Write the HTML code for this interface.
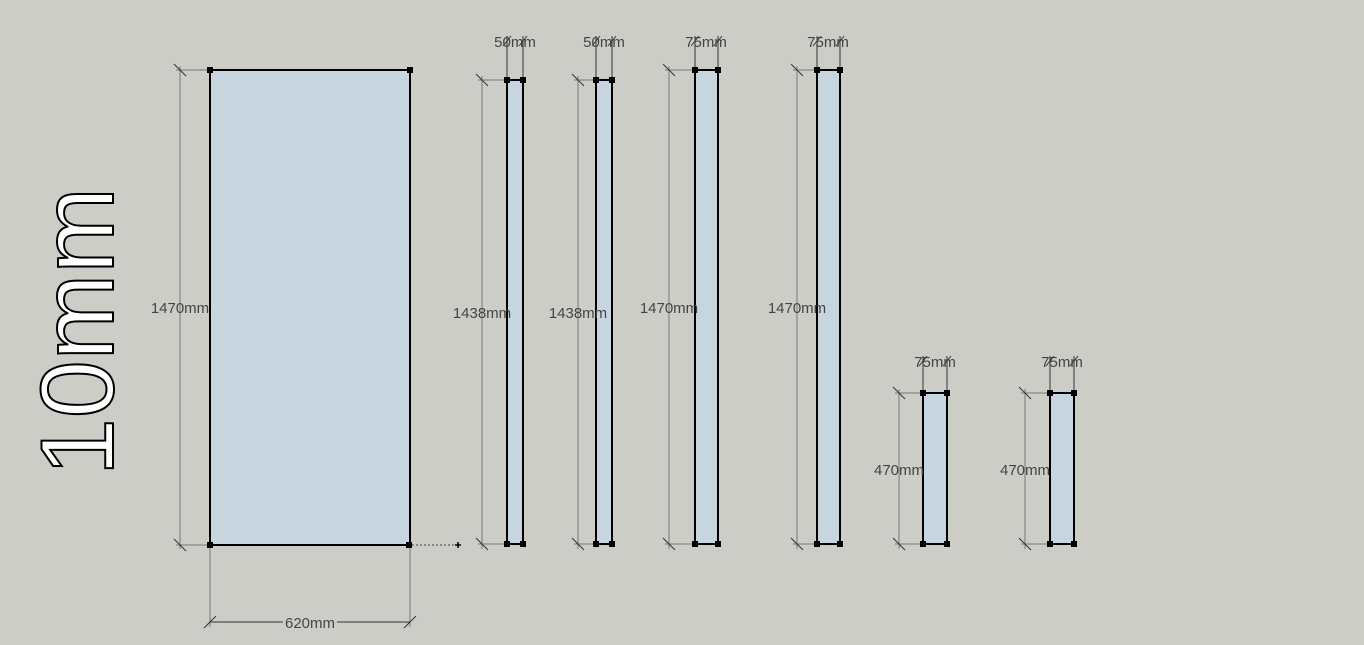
<!DOCTYPE html>
<html><head><meta charset="utf-8"><style>
html,body{margin:0;padding:0;background:#cdcdc8;}
svg{display:block}
text{font-family:"Liberation Sans",sans-serif;font-size:15px;fill:#444;}
</style></head><body>
<svg width="1364" height="645" viewBox="0 0 1364 645" xmlns="http://www.w3.org/2000/svg">
<rect width="1364" height="645" fill="#cdcdc8"/>
<text x="0" y="0" transform="translate(113,476) rotate(-90)" style="font-size:104px;fill:#fff;stroke:#000;stroke-width:2px">10mm</text>

<g stroke="#777" stroke-width="1" fill="none">
<line x1="180" y1="66" x2="180" y2="549"/>
<line x1="176" y1="70" x2="210" y2="70"/><line x1="176" y1="545" x2="210" y2="545"/>
<line x1="210" y1="545" x2="210" y2="627"/><line x1="410" y1="545" x2="410" y2="627"/>
<line x1="482" y1="76" x2="482" y2="549"/><line x1="478" y1="80" x2="507" y2="80"/><line x1="478" y1="544" x2="507" y2="544"/>
<line x1="578" y1="76" x2="578" y2="549"/><line x1="574" y1="80" x2="596" y2="80"/><line x1="574" y1="544" x2="596" y2="544"/>
<line x1="669" y1="66" x2="669" y2="549"/><line x1="665" y1="70" x2="695" y2="70"/><line x1="665" y1="544" x2="695" y2="544"/>
<line x1="797" y1="66" x2="797" y2="549"/><line x1="793" y1="70" x2="817" y2="70"/><line x1="793" y1="544" x2="817" y2="544"/>
<line x1="899" y1="389" x2="899" y2="549"/><line x1="895" y1="393" x2="923" y2="393"/><line x1="895" y1="544" x2="923" y2="544"/>
<line x1="1025" y1="389" x2="1025" y2="549"/><line x1="1021" y1="393" x2="1050" y2="393"/><line x1="1021" y1="544" x2="1050" y2="544"/>
</g>
<g stroke="#333" stroke-width="1" fill="none">
<line x1="210" y1="622" x2="410" y2="622"/>
<line x1="507" y1="80" x2="507" y2="36"/><line x1="523" y1="80" x2="523" y2="36"/>
<line x1="596" y1="80" x2="596" y2="36"/><line x1="612" y1="80" x2="612" y2="36"/>
<line x1="695" y1="70" x2="695" y2="36"/><line x1="718" y1="70" x2="718" y2="36"/>
<line x1="817" y1="70" x2="817" y2="36"/><line x1="840" y1="70" x2="840" y2="36"/>
<line x1="923" y1="393" x2="923" y2="356"/><line x1="947" y1="393" x2="947" y2="356"/>
<line x1="1050" y1="393" x2="1050" y2="356"/><line x1="1074" y1="393" x2="1074" y2="356"/>
<path d="M174 64L186 76M174 539L186 551M204 628L216 616M404 628L416 616
M476 74L488 86M476 538L488 550M572 74L584 86M572 538L584 550
M663 64L675 76M663 538L675 550M791 64L803 76M791 538L803 550
M893 387L905 399M893 538L905 550M1019 387L1031 399M1019 538L1031 550
M503 46L511 36M519 46L527 36M592 46L600 36M608 46L616 36
M691 46L699 36M714 46L722 36M813 46L821 36M836 46L844 36
M919 366L927 356M943 366L951 356M1046 366L1054 356M1070 366L1078 356"/>
</g>
<line x1="412" y1="545" x2="458" y2="545" stroke="#444" stroke-dasharray="2,2"/>
<path d="M455 545h6M458 542v6" stroke="#000" stroke-width="1.5"/>

<g fill="#c6d5de" stroke="#000" stroke-width="2">
<rect x="210" y="70" width="200" height="475"/>
<rect x="507" y="80" width="16" height="464"/>
<rect x="596" y="80" width="16" height="464"/>
<rect x="695" y="70" width="23" height="474"/>
<rect x="817" y="70" width="23" height="474"/>
<rect x="923" y="393" width="24" height="151"/>
<rect x="1050" y="393" width="24" height="151"/>
</g>
<g fill="#000">
<rect x="207" y="67" width="6" height="6"/><rect x="407" y="67" width="6" height="6"/><rect x="207" y="542" width="6" height="6"/><rect x="406" y="542" width="6" height="6"/>
<rect x="504" y="77" width="6" height="6"/><rect x="520" y="77" width="6" height="6"/><rect x="504" y="541" width="6" height="6"/><rect x="520" y="541" width="6" height="6"/>
<rect x="593" y="77" width="6" height="6"/><rect x="609" y="77" width="6" height="6"/><rect x="593" y="541" width="6" height="6"/><rect x="609" y="541" width="6" height="6"/>
<rect x="692" y="67" width="6" height="6"/><rect x="715" y="67" width="6" height="6"/><rect x="692" y="541" width="6" height="6"/><rect x="715" y="541" width="6" height="6"/>
<rect x="814" y="67" width="6" height="6"/><rect x="837" y="67" width="6" height="6"/><rect x="814" y="541" width="6" height="6"/><rect x="837" y="541" width="6" height="6"/>
<rect x="920" y="390" width="6" height="6"/><rect x="944" y="390" width="6" height="6"/><rect x="920" y="541" width="6" height="6"/><rect x="944" y="541" width="6" height="6"/>
<rect x="1047" y="390" width="6" height="6"/><rect x="1071" y="390" width="6" height="6"/><rect x="1047" y="541" width="6" height="6"/><rect x="1071" y="541" width="6" height="6"/>
</g>

<rect x="283" y="615" width="54" height="15" fill="#cdcdc8"/>
<g text-anchor="middle">
<text x="180" y="313">1470mm</text>
<text x="310" y="628">620mm</text>
<text x="482" y="318">1438mm</text>
<text x="578" y="318">1438mm</text>
<text x="669" y="313">1470mm</text>
<text x="797" y="313">1470mm</text>
<text x="899" y="475">470mm</text>
<text x="1025" y="475">470mm</text>
<text x="515" y="47">50mm</text>
<text x="604" y="47">50mm</text>
<text x="706" y="47">75mm</text>
<text x="828" y="47">75mm</text>
<text x="935" y="367">75mm</text>
<text x="1062" y="367">75mm</text>
</g>
</svg>
</body></html>
